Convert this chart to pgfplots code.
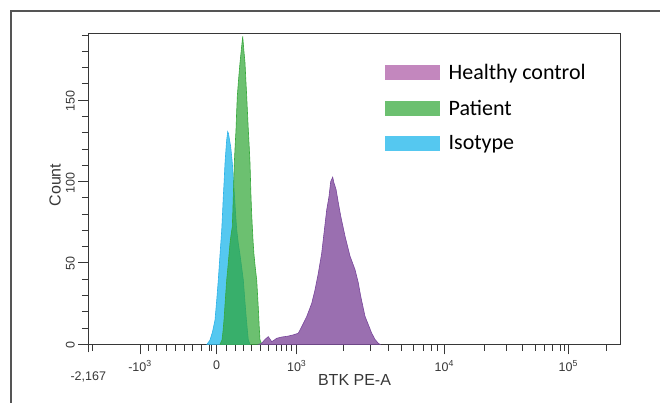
\documentclass[border=0pt]{standalone}
\usepackage{fontspec}
\setmainfont{Liberation Sans}
\newfontfamily\carlito{Carlito}
\usepackage{pgfplots}
\pgfplotsset{compat=1.18}

\definecolor{hcfill}{RGB}{154,111,176}
\definecolor{hcedge}{RGB}{120,70,155}
\definecolor{hcleg}{RGB}{195,135,190}
\definecolor{ptfill}{RGB}{45,165,51}
\definecolor{ptedge}{RGB}{55,168,60}
\definecolor{ptleg}{RGB}{108,192,112}
\definecolor{isofill}{RGB}{85,200,240}
\definecolor{isoedge}{RGB}{45,178,232}
\definecolor{axgray}{RGB}{55,55,55}
\definecolor{framegray}{RGB}{85,85,85}

% x is the display position on the biexponential scale (plot units)
\pgfplotstableread{
x     count
207   0
210   2.6
212.5 7.6
215   14.9
216.7 27
218.3 39.5
220   55
221.7 70
222.5 80
223.3 90.8
224.2 101
225   111.3
226   120
226.7 125.6
227.7 130.7
228.5 129.5
229.5 125.6
230.7 121.5
232.3 111.5
233.4 101
234.5 90.8
235.6 80
236.7 70.3
238.3 62
240   55
241.7 47
243.3 39.5
244.7 28
246   18
247.3 9
248.3 2.6
250   0
}\isotype

\pgfplotstableread{
x     count
220   0
222   2.6
223   8
224   14.9
225.3 27
226.7 39.5
228   48
229   55
230   62
231   67
232.3 72.3
232.8 81
233.3 90.8
233.8 101
234.3 111.3
235.1 121.5
236   131.9
236.6 142
237.3 152.4
238.6 163
240   173
241.3 181
242.7 189.2
243.8 181
245   173
245.8 163
246.7 152.4
247.5 142
248.3 131.9
249.2 121.5
250   111.5
250.5 101
251   90.8
251.6 81
252.3 72.3
253.1 63
254   55
255.3 47
256.7 39.5
257.6 30
258.5 20
259.2 11
260   2.6
262   0
}\patient

\pgfplotstableread{
x     count
259   0
261.7 0.6
265   3
268.3 4.7
271.7 1.6
274   2.5
276.7 3.7
282   4.5
288   5
293.3 5.8
298.3 6.8
301.7 10.8
306.7 17
311.7 25.1
315   33.4
318.3 43.6
321.7 56
324   68.3
326.7 82.6
329   90.8
330.7 100
332.7 102.7
334   99
336   95.3
338.3 87
340.7 78.8
345   66.5
350   54.2
355   45.9
358.3 37.7
360.7 29.5
365   17.2
371.7 6.8
375   3
378.3 0.6
380   0
}\healthy

\begin{document}
\begin{tikzpicture}
\path[use as bounding box] (0pt,0pt) rectangle (660pt,-403pt);
\draw[framegray, line width=1.3pt] (11pt,-404pt) -- (11pt,-11pt) -- (661pt,-11pt);
\begin{axis}[
    at={(88.3pt,-344.3pt)}, anchor=south west,
    scale only axis, width=532.4pt, height=310.8pt,
    xmin=88.3, xmax=620.7, ymin=0, ymax=191,
    axis line style={axgray, line width=1.2pt},
    tick align=outside, tick pos=left,
    tick style={axgray, line width=1pt},
    major tick length=10pt, minor tick length=6.5pt,
    xtick={140,216.7,296.7,444.3,568.3},
    xticklabels={-10\textsuperscript{3}, 0, 10\textsuperscript{3}, 10\textsuperscript{4}, 10\textsuperscript{5}},
    minor xtick={92.3,148.3,156.7,166,175,184,192.7,201,209,211.7,226.7,235,243.3,251.7,260,268.3,276.7,281.7,286.7,291,343.3,370,388.3,401.7,413.3,423.3,431.7,437.7,484.3,506.7,522.7,535.3,544.7,552.7,560,564.3,606.7},
    extra x ticks={88.3},
    extra x tick labels={{-2{,}167}},
    extra x tick style={major tick length=8pt, tick label style={yshift=-13pt}},
    ytick={0,50,100,150},
    minor ytick={10,20,30,40,60,70,80,90,110,120,130,140,160,170,180,190},
    /pgf/number format/assume math mode=true,
    tick label style={font=\fontsize{12.5}{12.5}\selectfont, text=axgray},
    xticklabel style={yshift=-3pt},
    yticklabel style={rotate=90, anchor=south, xshift=-1pt},
    xlabel={BTK PE-A}, ylabel={Count},
    xlabel style={font=\fontsize{16}{16}\selectfont, text=axgray, at={(axis description cs:0.5,-0.115)}, anchor=center},
    ylabel style={font=\fontsize{16}{16}\selectfont, text=axgray, at={(axis description cs:-0.0625,0.5125)}, anchor=center},
    legend style={draw=none, fill=none, at={(0.556,0.902)}, anchor=north west,
        font=\carlito\fontsize{22}{22}\selectfont, row sep=19pt, column sep=9.7pt,
        inner sep=0pt, nodes={inner sep=0pt}},
    legend cell align=left,
]
\addplot[forget plot, draw=isoedge, line width=0.6pt, fill=isofill] table[x=x, y=count] {\isotype} \closedcycle;
\addplot[forget plot, draw=ptedge, line width=0.6pt, fill=ptfill, fill opacity=0.7] table[x=x, y=count] {\patient} \closedcycle;
\addplot[forget plot, draw=hcedge, line width=0.6pt, fill=hcfill] table[x=x, y=count] {\healthy} \closedcycle;

\addlegendimage{legend image code/.code={\fill[hcleg] (0pt,-7pt) rectangle (54pt,7pt);}}
\addlegendentry{Healthy control}
\addlegendimage{legend image code/.code={\fill[ptleg] (0pt,-7pt) rectangle (54pt,7pt);}}
\addlegendentry{Patient}
\addlegendimage{legend image code/.code={\fill[isofill] (0pt,-7pt) rectangle (54pt,7pt);}}
\addlegendentry{Isotype}
\end{axis}
\end{tikzpicture}
\end{document}
